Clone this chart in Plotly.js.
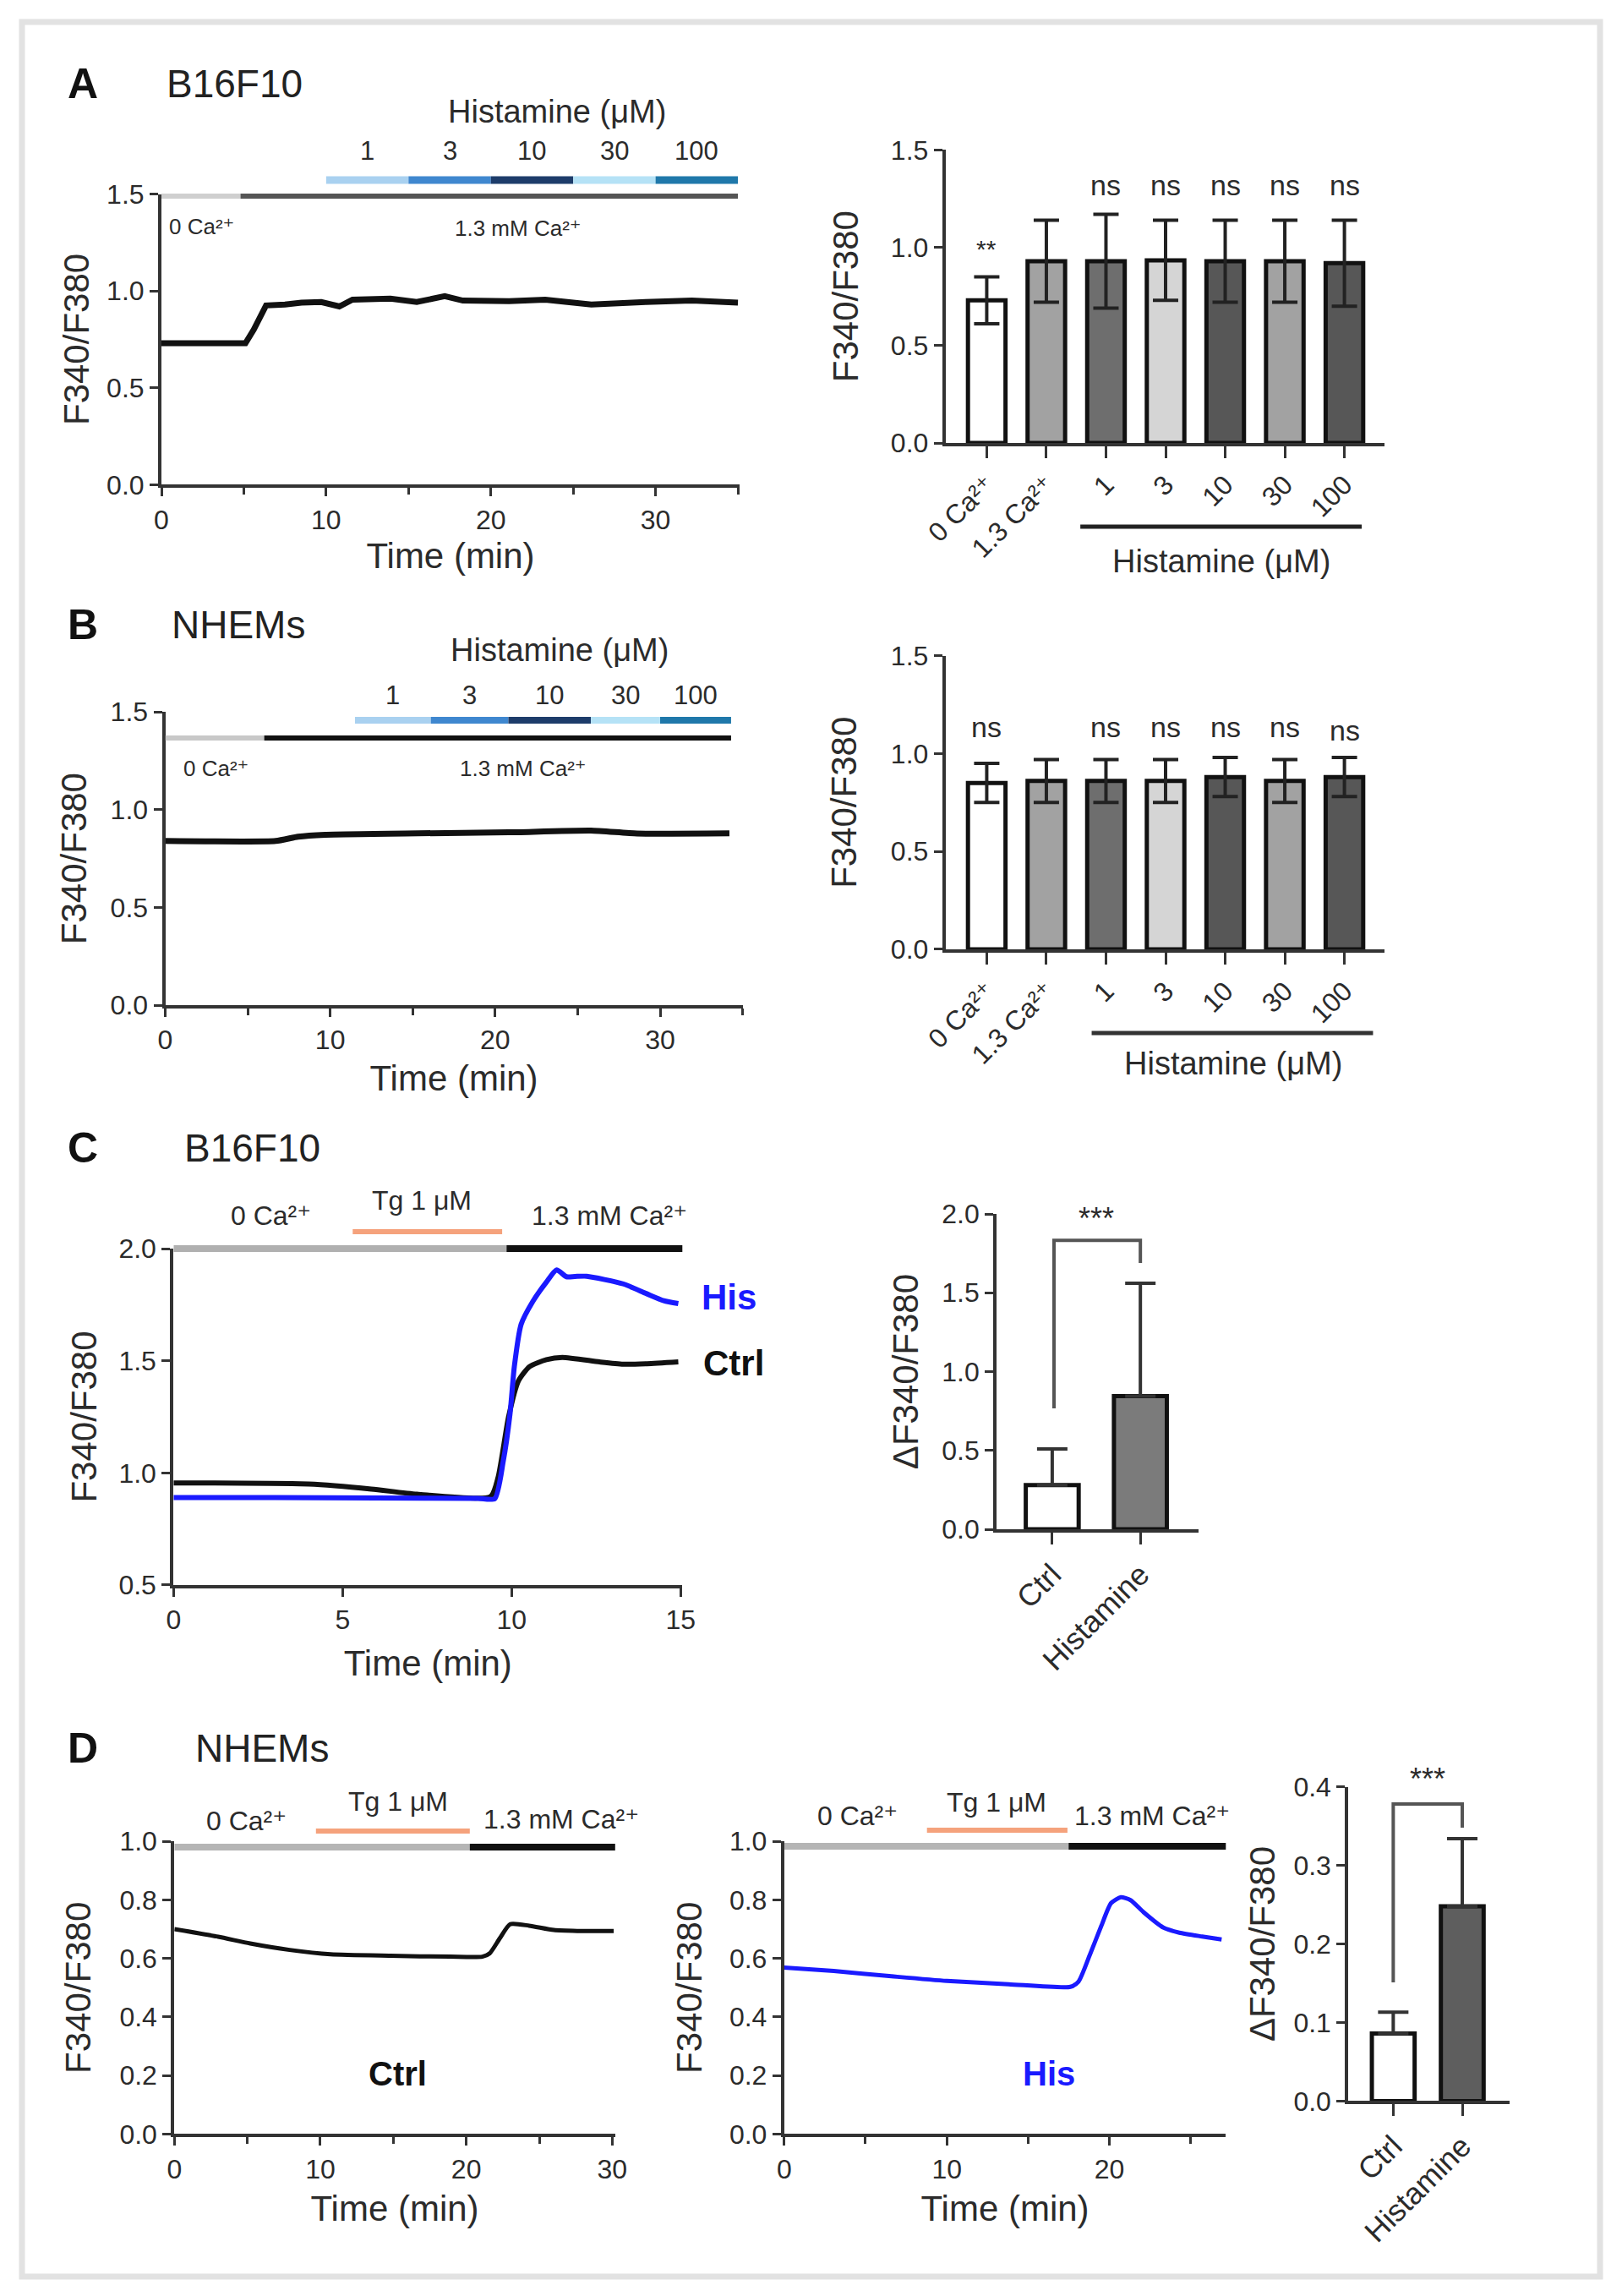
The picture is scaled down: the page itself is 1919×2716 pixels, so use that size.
<!DOCTYPE html>
<html><head><meta charset="utf-8">
<script src="https://cdn.plot.ly/plotly-3.0.1.min.js"></script>
<style>html,body{margin:0;padding:0;background:#fff;}#chart{width:1919px;height:2716px;}</style>
</head><body><div id="chart"></div>
<script>
const W = 1919, H = 2716;
const FONT = 'Liberation Sans, Arial, Helvetica, DejaVu Sans, sans-serif';
const TXT = '#2b2b2b';

// ---------- DATA ----------
// Panel A (B16F10) trace
const timeA  = [0, 5.1, 5.6, 6.35, 7.5, 8.5, 9.7, 10.8, 11.6, 13.9, 15.5, 17.2, 18.3, 21.1, 23.3, 26.1, 29.4, 32.2, 35];
const ratioA = [0.73, 0.73, 0.80, 0.925, 0.93, 0.94, 0.943, 0.92, 0.955, 0.96, 0.943, 0.973, 0.95, 0.947, 0.955, 0.93, 0.943, 0.95, 0.94];
// Panel B (NHEMs) trace
const timeB  = [0, 6.7, 8.05, 9.7, 15.3, 20.8, 25.8, 28.6, 34.2];
const ratioB = [0.84, 0.84, 0.862, 0.872, 0.879, 0.884, 0.893, 0.878, 0.879];
// Histamine doses / stimulus timing
const histLabels = ['1', '3', '10', '30', '100'];
const histColors = ['#a9d1f0', '#3f87cf', '#1d3c6a', '#b5e2f6', '#1f78aa'];
const histStartA = [10, 15, 20, 25, 30];
const histEndA   = [15, 20, 25, 30, 35];
const histStartB = [11.5, 16.1, 20.8, 25.8, 30.0];
const histEndB   = [16.1, 20.8, 25.8, 30.0, 34.3];
const caSwitchA = 4.8,  caEndA = 35;
const caSwitchB = 6.0,  caEndB = 34.3;
// Bar summaries A/B
const barCats = ['0 Ca²⁺', '1.3 Ca²⁺', '1', '3', '10', '30', '100'];
const meanA = [0.73, 0.93, 0.93, 0.935, 0.93, 0.93, 0.92];
const semA  = [0.12, 0.21, 0.24, 0.205, 0.21, 0.21, 0.22];
const sigA  = ['**', '', 'ns', 'ns', 'ns', 'ns', 'ns'];
const meanB = [0.85, 0.86, 0.86, 0.86, 0.88, 0.86, 0.88];
const semB  = [0.10, 0.11, 0.11, 0.11, 0.10, 0.11, 0.10];
const sigB  = ['ns', '', 'ns', 'ns', 'ns', 'ns', 'ns'];
const barColors = ['#ffffff', '#a2a2a2', '#6e6e6e', '#d5d5d5', '#575757', '#a2a2a2', '#575757'];
// Panel C (B16F10, Tg) traces
const timeCHis  = [0, 3, 6, 9, 9.5, 9.75, 9.95, 10.08, 10.28, 10.62, 11.03, 11.33, 11.62, 11.87, 12.22, 13.3, 13.98, 14.5, 14.93];
const ratioCHis = [0.89, 0.89, 0.888, 0.886, 0.885, 1.05, 1.26, 1.474, 1.662, 1.763, 1.851, 1.905, 1.875, 1.876, 1.877, 1.843, 1.80, 1.768, 1.755];
const timeCCtrl  = [0, 4, 5.85, 7.2, 9.38, 9.6, 9.91, 10.2, 10.53, 11.03, 11.5, 12.6, 13.3, 14.0, 14.93];
const ratioCCtrl = [0.955, 0.95, 0.928, 0.905, 0.895, 0.98, 1.25, 1.41, 1.474, 1.505, 1.515, 1.495, 1.485, 1.487, 1.495];
const caSwitchC = 9.85, caEndC = 15.27, tgC = [5.3, 9.72];
const catsC = ['Ctrl', 'Histamine'];
const meanC = [0.28, 0.845];
const semC  = [0.23, 0.715];
// Panel D (NHEMs, Tg) traces
const timeDCtrl  = [0, 3, 5.2, 7.9, 10.7, 14.8, 18.9, 21.1, 21.6, 22.3, 23.0, 24.3, 26.0, 27.6, 30.1];
const ratioDCtrl = [0.70, 0.674, 0.651, 0.629, 0.614, 0.609, 0.606, 0.606, 0.617, 0.669, 0.717, 0.712, 0.697, 0.694, 0.694];
const timeDHis  = [0, 3.05, 6.6, 10, 13.8, 17.6, 18.1, 18.8, 19.5, 20.1, 20.7, 21.3, 22.1, 23.3, 24.3, 25.7, 26.9];
const ratioDHis = [0.569, 0.557, 0.539, 0.523, 0.512, 0.503, 0.521, 0.613, 0.711, 0.789, 0.809, 0.799, 0.758, 0.706, 0.688, 0.675, 0.665];
const caSwitchD1 = 20.24, caEndD1 = 30.76, tgD1 = [9.7, 20.24];
const caSwitchD2 = 17.49, caEndD2 = 27.5,  tgD2 = [8.78, 17.42];
const meanD = [0.086, 0.248];
const semD  = [0.027, 0.086];

// ---------- HELPERS ----------
const dx = (a, b) => [a / W, b / W];
const dy = (top, bottom) => [1 - bottom / H, 1 - top / H];
const PY = (p) => 1 - p / H;
const PX = (p) => p / W;
const idx = (arr) => arr.map((_, i) => i);

function ax(o) {
  const base = {
    showline: true, linecolor: '#333', linewidth: 4, mirror: false,
    ticks: 'outside', ticklen: 10, tickwidth: 3, tickcolor: '#333',
    showgrid: false, zeroline: false, fixedrange: true,
    tickfont: {family: FONT, size: 32, color: TXT}
  };
  const r = Object.assign(base, o);
  if (o.titleText !== undefined) {
    r.title = {text: o.titleText, font: {family: FONT, size: 42, color: TXT}, standoff: o.standoff || 10};
    delete r.titleText; delete r.standoff;
  }
  return r;
}
const minor5 = {dtick: 5, tick0: 0, ticks: 'outside', ticklen: 8, tickwidth: 3, tickcolor: '#333', showgrid: false};
function seg(xref, x0, x1, pyPx, color, width) {
  return {type: 'line', xref: xref, yref: 'paper', x0: x0, x1: x1, y0: PY(pyPx), y1: PY(pyPx),
          line: {color: color, width: width}};
}
function lab(xref, x, pyPx, text, size, extra) {
  return Object.assign({xref: xref, yref: 'paper', x: x, y: PY(pyPx), text: text, showarrow: false,
          xanchor: 'center', yanchor: 'middle', font: {family: FONT, size: size, color: TXT}}, extra || {});
}
function plab(pxX, pyPx, text, size, extra) {
  return lab('paper', PX(pxX), pyPx, text, size, extra);
}

const traces = [];
const shapes = [];
const annotations = [];

// border
shapes.push({type: 'rect', xref: 'paper', yref: 'paper', x0: PX(26), x1: PX(1893), y0: PY(2693), y1: PY(26),
             line: {color: '#e2e2e2', width: 7}, layer: 'below'});

// Panel letters & cell names
[['A', 99, 'B16F10', 277], ['B', 739, 'NHEMs', 282], ['C', 1358, 'B16F10', 298], ['D', 2068, 'NHEMs', 310]].forEach(p => {
  annotations.push(plab(98, p[1], p[0], 50, {font: {family: FONT, size: 50, color: '#111', weight: 'bold'}}));
  annotations.push(plab(p[3], p[1], p[2], 46, {font: {family: FONT, size: 46, color: '#222'}}));
});

// ---------- Panel A line ----------
traces.push({type: 'scatter', mode: 'lines', x: timeA, y: ratioA, xaxis: 'x', yaxis: 'y',
             line: {color: '#111', width: 7}, hoverinfo: 'skip'});
histLabels.forEach((l, i) => {
  shapes.push(seg('x', histStartA[i], histEndA[i], 213, histColors[i], 9));
  annotations.push(lab('x', (histStartA[i] + histEndA[i]) / 2, 179, l, 31));
});
shapes.push(seg('x', 0, caSwitchA, 232, '#cfcfcf', 6));
shapes.push(seg('x', caSwitchA, caEndA, 232, '#555', 6));
annotations.push(lab('x', 24.0, 132, 'Histamine (μM)', 38));
annotations.push(lab('x', 2.45, 268, '0 Ca²⁺', 26));
annotations.push(lab('x', 21.65, 270, '1.3 mM Ca²⁺', 26));

// ---------- Panel A bars ----------
traces.push({type: 'bar', x: idx(barCats), y: meanA, xaxis: 'x2', yaxis: 'y2', width: 0.63,
             marker: {color: barColors, line: {color: '#111', width: 5}},
             error_y: {type: 'data', array: semA, visible: true, color: '#222', thickness: 4, width: 15},
             hoverinfo: 'skip'});
sigA.forEach((s, i) => { if (s) annotations.push({xref: 'x2', yref: 'y2', x: i, y: s === '**' ? 0.995 : 1.32,
  text: s, showarrow: false, font: {family: FONT, size: s === '**' ? 30 : 34, color: TXT}}); });
shapes.push({type: 'line', xref: 'x2', yref: 'paper', x0: 1.57, x1: 6.29, y0: PY(623), y1: PY(623), line: {color: '#222', width: 5}});
annotations.push(lab('x2', 3.94, 664, 'Histamine (μM)', 38));

// ---------- Panel B line ----------
traces.push({type: 'scatter', mode: 'lines', x: timeB, y: ratioB, xaxis: 'x3', yaxis: 'y3',
             line: {color: '#111', width: 7, shape: 'spline', smoothing: 0.5}, hoverinfo: 'skip'});
histLabels.forEach((l, i) => {
  shapes.push(seg('x3', histStartB[i], histEndB[i], 852, histColors[i], 8));
  annotations.push(lab('x3', (histStartB[i] + histEndB[i]) / 2, 822, l, 31));
});
shapes.push(seg('x3', 0, caSwitchB, 873, '#c8c8c8', 6));
shapes.push(seg('x3', caSwitchB, caEndB, 873, '#111', 6));
annotations.push(lab('x3', 23.9, 769, 'Histamine (μM)', 38));
annotations.push(lab('x3', 3.05, 909, '0 Ca²⁺', 26));
annotations.push(lab('x3', 21.7, 909, '1.3 mM Ca²⁺', 26));

// ---------- Panel B bars ----------
traces.push({type: 'bar', x: idx(barCats), y: meanB, xaxis: 'x4', yaxis: 'y4', width: 0.63,
             marker: {color: barColors, line: {color: '#111', width: 5}},
             error_y: {type: 'data', array: semB, visible: true, color: '#222', thickness: 4, width: 15},
             hoverinfo: 'skip'});
sigB.forEach((s, i) => { if (s) annotations.push({xref: 'x4', yref: 'y4', x: i, y: i === 6 ? 1.12 : 1.137,
  text: s, showarrow: false, font: {family: FONT, size: 34, color: TXT}}); });
shapes.push({type: 'line', xref: 'x4', yref: 'paper', x0: 1.76, x1: 6.48, y0: PY(1222), y1: PY(1222), line: {color: '#333', width: 5}});
annotations.push(lab('x4', 4.14, 1258, 'Histamine (μM)', 38));

// ---------- Panel C line ----------
traces.push({type: 'scatter', mode: 'lines', x: timeCCtrl, y: ratioCCtrl, xaxis: 'x5', yaxis: 'y5',
             line: {color: '#111', width: 6, shape: 'spline', smoothing: 0.6}, hoverinfo: 'skip'});
traces.push({type: 'scatter', mode: 'lines', x: timeCHis, y: ratioCHis, xaxis: 'x5', yaxis: 'y5',
             line: {color: '#1a1aff', width: 6, shape: 'spline', smoothing: 0.6}, hoverinfo: 'skip'});
shapes.push(seg('x5', 0, caSwitchC, 1477, '#b0b0b0', 8));
shapes.push(seg('x5', caSwitchC, caEndC, 1477, '#111', 8));
shapes.push(seg('x5', tgC[0], tgC[1], 1457, '#f5a27c', 6));
annotations.push(lab('x5', 2.87, 1438, '0 Ca²⁺', 32));
annotations.push(lab('x5', 7.34, 1420, 'Tg 1 μM', 32));
annotations.push(lab('x5', 12.9, 1438, '1.3 mM Ca²⁺', 32));
annotations.push(plab(862, 1534, 'His', 42, {font: {family: FONT, size: 42, color: '#1a1aff', weight: 'bold'}}));
annotations.push(plab(868, 1612, 'Ctrl', 42, {font: {family: FONT, size: 42, color: '#111', weight: 'bold'}}));

// ---------- Panel C bars ----------
traces.push({type: 'bar', x: idx(catsC), y: meanC, xaxis: 'x6', yaxis: 'y6', width: 0.6,
             marker: {color: ['#ffffff', '#7b7b7b'], line: {color: '#111', width: 5}},
             error_y: {type: 'data', symmetric: false, array: semC, arrayminus: [0, 0], visible: true, color: '#333', thickness: 4, width: 18},
             hoverinfo: 'skip'});
shapes.push({type: 'path', xref: 'x6', yref: 'y6', path: 'M 0.02,0.767 L 0.02,1.833 L 1,1.833 L 1,1.689', line: {color: '#555', width: 4}});
annotations.push({xref: 'x6', yref: 'y6', x: 0.5, y: 1.97, text: '***', showarrow: false, font: {family: FONT, size: 36, color: TXT}});

// ---------- Panel D line 1 (Ctrl) ----------
traces.push({type: 'scatter', mode: 'lines', x: timeDCtrl, y: ratioDCtrl, xaxis: 'x7', yaxis: 'y7',
             line: {color: '#111', width: 5, shape: 'spline', smoothing: 0.6}, hoverinfo: 'skip'});
shapes.push(seg('x7', 0, caSwitchD1, 2185, '#b5b5b5', 8));
shapes.push(seg('x7', caSwitchD1, caEndD1, 2185, '#111', 8));
shapes.push(seg('x7', tgD1[0], tgD1[1], 2166, '#f5a27c', 6));
annotations.push(lab('x7', 4.92, 2154, '0 Ca²⁺', 32));
annotations.push(lab('x7', 15.3, 2131, 'Tg 1 μM', 32));
annotations.push(lab('x7', 26.5, 2152, '1.3 mM Ca²⁺', 32));
annotations.push({xref: 'x7', yref: 'y7', x: 15.3, y: 0.206, text: 'Ctrl', showarrow: false, font: {family: FONT, size: 40, color: '#111', weight: 'bold'}});

// ---------- Panel D line 2 (His) ----------
traces.push({type: 'scatter', mode: 'lines', x: timeDHis, y: ratioDHis, xaxis: 'x8', yaxis: 'y8',
             line: {color: '#1a1aff', width: 5, shape: 'spline', smoothing: 0.6}, hoverinfo: 'skip'});
shapes.push(seg('x8', 0, caSwitchD2, 2184, '#b5b5b5', 8));
shapes.push(seg('x8', caSwitchD2, caEndD2, 2184, '#111', 8));
shapes.push(seg('x8', tgD2[0], tgD2[1], 2165, '#f5a27c', 6));
annotations.push(lab('x8', 4.49, 2148, '0 Ca²⁺', 32));
annotations.push(lab('x8', 13.08, 2132, 'Tg 1 μM', 32));
annotations.push(lab('x8', 22.6, 2148, '1.3 mM Ca²⁺', 32));
annotations.push({xref: 'x8', yref: 'y8', x: 16.3, y: 0.206, text: 'His', showarrow: false, font: {family: FONT, size: 40, color: '#1a1aff', weight: 'bold'}});

// ---------- Panel D bars ----------
traces.push({type: 'bar', x: idx(catsC), y: meanD, xaxis: 'x9', yaxis: 'y9', width: 0.62,
             marker: {color: ['#ffffff', '#5e5e5e'], line: {color: '#111', width: 5}},
             error_y: {type: 'data', symmetric: false, array: semD, arrayminus: [0, 0], visible: true, color: '#333', thickness: 4, width: 18},
             hoverinfo: 'skip'});
shapes.push({type: 'path', xref: 'x9', yref: 'y9', path: 'M 0,0.151 L 0,0.378 L 1,0.378 L 1,0.348', line: {color: '#555', width: 4}});
annotations.push(lab('x9', 0.5, 2104, '***', 36));

// ---------- LAYOUT ----------
const layout = {
  width: W, height: H, margin: {l: 0, r: 0, t: 0, b: 0},
  paper_bgcolor: '#fff', plot_bgcolor: 'rgba(0,0,0,0)', showlegend: false,
  font: {family: FONT, color: TXT},
  // A line
  xaxis:  ax({domain: dx(191, 875), anchor: 'y', range: [0, 35.1], tick0: 0, dtick: 10, minor: minor5, titleText: 'Time (min)', standoff: 12}),
  yaxis:  ax({domain: dy(229.6, 573.3), anchor: 'x', range: [0, 1.5], tickvals: [0, 0.5, 1, 1.5], tickformat: '.1f', titleText: 'F340/F380', standoff: 8}),
  // A bars
  xaxis2: ax({domain: dx(1118.75, 1637.5), anchor: 'y2', range: [-0.69, 6.665], tickvals: idx(barCats), ticktext: barCats, tickangle: -45, ticklen: 14}),
  yaxis2: ax({domain: dy(177.3, 524), anchor: 'x2', range: [0, 1.5], tickvals: [0, 0.5, 1, 1.5], tickformat: '.1f', titleText: 'F340/F380', standoff: 26}),
  // B line
  xaxis3: ax({domain: dx(195.5, 878.6), anchor: 'y3', range: [0, 35], tick0: 0, dtick: 10, minor: minor5, titleText: 'Time (min)', standoff: 14}),
  yaxis3: ax({domain: dy(842.2, 1189), anchor: 'x3', range: [0, 1.5], tickvals: [0, 0.5, 1, 1.5], tickformat: '.1f', titleText: 'F340/F380', standoff: 16}),
  // B bars
  xaxis4: ax({domain: dx(1118.75, 1637.5), anchor: 'y4', range: [-0.69, 6.665], tickvals: idx(barCats), ticktext: barCats, tickangle: -45, ticklen: 14}),
  yaxis4: ax({domain: dy(775.7, 1122.9), anchor: 'x4', range: [0, 1.5], tickvals: [0, 0.5, 1, 1.5], tickformat: '.1f', titleText: 'F340/F380', standoff: 28}),
  // C line
  xaxis5: ax({domain: dx(205.3, 807.3), anchor: 'y5', range: [0, 15.05], tickvals: [0, 5, 10, 15], titleText: 'Time (min)', standoff: 20}),
  yaxis5: ax({domain: dy(1477.1, 1874.9), anchor: 'x5', range: [0.5, 2.0], tickvals: [0.5, 1, 1.5, 2], tickformat: '.1f', titleText: 'F340/F380', standoff: 14}),
  // C bars
  xaxis6: ax({domain: dx(1179.2, 1417.7), anchor: 'y6', range: [-0.63, 1.657], tickvals: idx(catsC), ticktext: catsC, tickangle: -45, ticklen: 14, tickfont: {family: FONT, size: 36, color: TXT}}),
  yaxis6: ax({domain: dy(1436, 1809.1), anchor: 'x6', range: [0, 2], tickvals: [0, 0.5, 1, 1.5, 2], tickformat: '.1f', titleText: 'ΔF340/F380', standoff: 16}),
  // D line 1
  xaxis7: ax({domain: dx(206.3, 727.8), anchor: 'y7', range: [0, 30.2], tick0: 0, dtick: 10, minor: minor5, titleText: 'Time (min)', standoff: 16}),
  yaxis7: ax({domain: dy(2178.2, 2524.4), anchor: 'x7', range: [0, 1], tickvals: [0, 0.2, 0.4, 0.6, 0.8, 1.0], tickformat: '.1f', titleText: 'F340/F380', standoff: 22}),
  // D line 2
  xaxis8: ax({domain: dx(927.8, 1450.3), anchor: 'y8', range: [0, 27.16], tick0: 0, dtick: 10, minor: minor5, titleText: 'Time (min)', standoff: 16}),
  yaxis8: ax({domain: dy(2178.2, 2524.4), anchor: 'x8', range: [0, 1], tickvals: [0, 0.2, 0.4, 0.6, 0.8, 1.0], tickformat: '.1f', titleText: 'F340/F380', standoff: 20}),
  // D bars
  xaxis9: ax({domain: dx(1595.3, 1786), anchor: 'y9', range: [-0.65, 1.686], tickvals: idx(catsC), ticktext: catsC, tickangle: -45, ticklen: 14, tickfont: {family: FONT, size: 36, color: TXT}}),
  yaxis9: ax({domain: dy(2113.6, 2485.4), anchor: 'x9', range: [0, 0.4], tickvals: [0, 0.1, 0.2, 0.3, 0.4], tickformat: '.1f', titleText: 'ΔF340/F380', standoff: 10}),
  shapes: shapes,
  annotations: annotations
};

Plotly.newPlot('chart', traces, layout, {staticPlot: true, displayModeBar: false});
</script></body></html>
